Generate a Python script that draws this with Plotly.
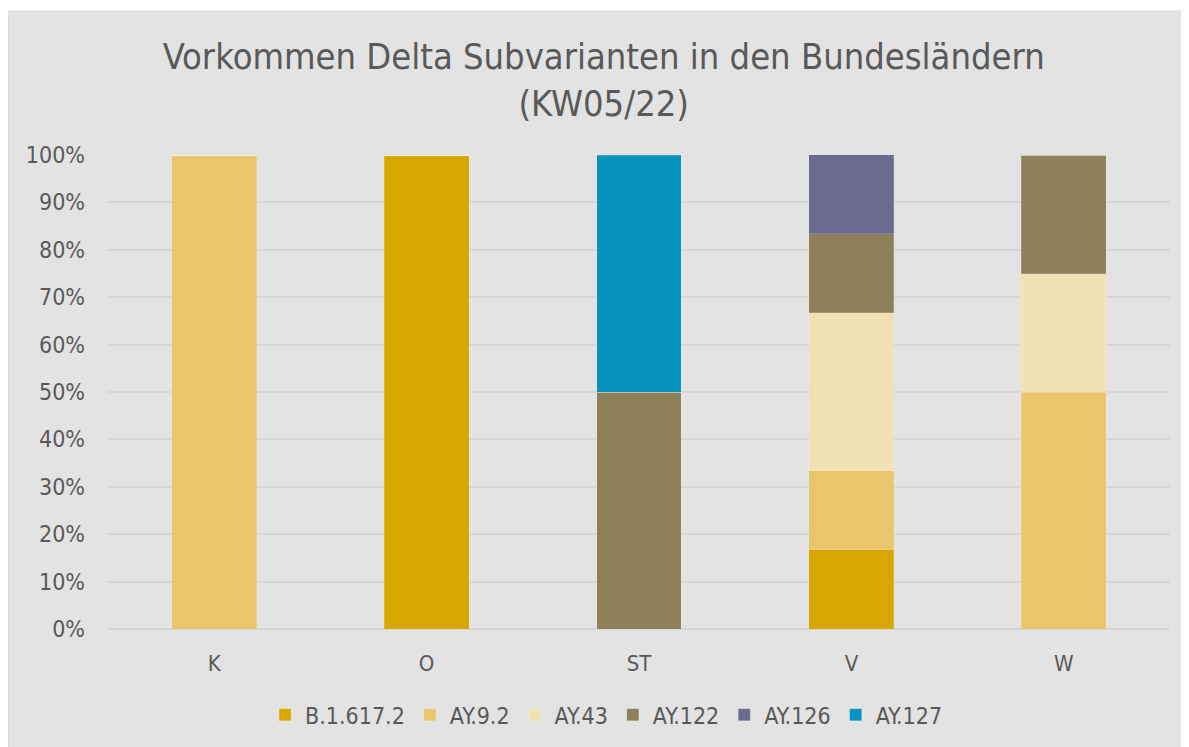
import plotly.graph_objects as go

regions = ["K", "O", "ST", "V", "W"]
variants = ["B.1.617.2", "AY.9.2", "AY.43", "AY.122", "AY.126", "AY.127"]
colors = ["#D9A800", "#EAC66A", "#F1E2B6", "#8E805A", "#6B6B8F", "#0893BE"]

# share per Bundesland in percent
b_1_617_2 = [0, 100, 0, 16.67, 0]
ay_9_2 = [100, 0, 0, 16.67, 50]
ay_43 = [0, 0, 0, 33.33, 25]
ay_122 = [0, 0, 50, 16.67, 25]
ay_126 = [0, 0, 0, 16.67, 0]
ay_127 = [0, 0, 50, 0, 0]
shares = [b_1_617_2, ay_9_2, ay_43, ay_122, ay_126, ay_127]

font = "DejaVu Sans Condensed, DejaVu Sans"
grey = "#595959"

fig = go.Figure()
for name, vals, col in zip(variants, shares, colors):
    fig.add_trace(go.Bar(
        x=regions, y=vals, name=name,
        marker=dict(color=col, line=dict(width=0.8, color="rgba(255,255,255,0.2)")),
    ))

# page body has an 8px margin, so everything is shifted by 8px
fig.update_layout(
    width=1189, height=747,
    barmode="stack", bargap=0.6,
    paper_bgcolor="white", plot_bgcolor="rgba(0,0,0,0)",
    margin=dict(l=100, r=27, t=147, b=126),
    font=dict(family=font, color=grey, size=21),
    title=dict(
        text="Vorkommen Delta Subvarianten in den Bundesländern<br>(KW05/22)",
        x=0.501, xref="container", xanchor="center",
        y=0.918, yref="container", yanchor="middle",
        font=dict(size=36, color=grey, family=font),
    ),
    legend=dict(
        orientation="h", x=0.469, xanchor="center", y=-0.181, yanchor="middle",
        font=dict(size=23, color=grey, family=font), bgcolor="rgba(0,0,0,0)",
        traceorder="normal", itemwidth=30,
    ),
    shapes=[dict(
        type="rect", xref="paper", yref="paper",
        x0=-0.094, x1=1.05, y0=-0.3, y1=1.3038,
        fillcolor="#E3E3E3", line=dict(color="#D6D6D6", width=1), layer="below",
    )],
)
fig.update_xaxes(showgrid=False, showline=False, ticks="", tickfont=dict(size=22),
                 ticklabelstandoff=19)
fig.update_yaxes(
    range=[0, 100], dtick=10, ticksuffix="%", showgrid=True,
    gridcolor="#D6D6D6", gridwidth=1.5, zeroline=True, zerolinecolor="#D6D6D6",
    zerolinewidth=1.5, tickfont=dict(size=23), ticklabelstandoff=22,
)

fig.write_html("out.html")
